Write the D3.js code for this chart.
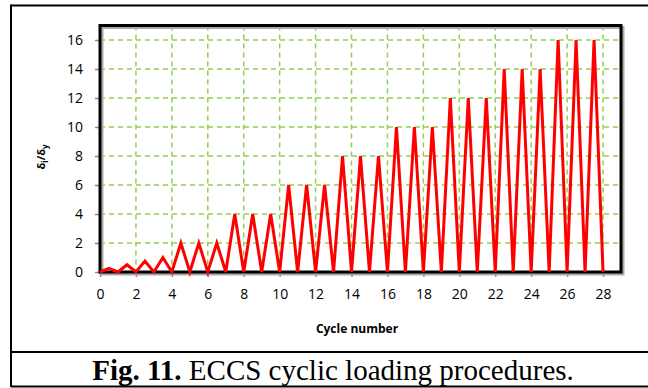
<!DOCTYPE html>
<html>
<head>
<meta charset="utf-8">
<script src="https://cdn.jsdelivr.net/npm/d3@7"></script>
<style>
  html, body { margin: 0; padding: 0; background: #fff; }
  svg { display: block; }
</style>
</head>
<body>
<script>
// ECCS cyclic loading protocol: displacement ratio per half cycle
const cycleX = [0, 0.5, 1, 1.5, 2, 2.5, 3, 3.5, 4,
  4.5, 5, 5.5, 6, 6.5, 7, 7.5, 8, 8.5, 9, 9.5, 10, 10.5, 11, 11.5, 12,
  12.5, 13, 13.5, 14, 14.5, 15, 15.5, 16, 16.5, 17, 17.5, 18, 18.5, 19,
  19.5, 20, 20.5, 21, 21.5, 22, 22.5, 23, 23.5, 24, 24.5, 25, 25.5, 26,
  26.5, 27, 27.5, 28];
const ratio = [0, 0.25, 0, 0.5, 0, 0.75, 0, 1, 0,
  2, 0, 2, 0, 2, 0, 4, 0, 4, 0, 4, 0, 6, 0, 6, 0,
  6, 0, 8, 0, 8, 0, 8, 0, 10, 0, 10, 0, 10, 0,
  12, 0, 12, 0, 12, 0, 14, 0, 14, 0, 14, 0, 16, 0,
  16, 0, 16, 0];
const xTicks = d3.range(0, 29, 2);
const yTicks = d3.range(0, 17, 2);

const W = 648, H = 388;
const svg = d3.select("body").append("svg").attr("width", W).attr("height", H);

// outer figure frame and caption box
svg.append("line").attr("x1", 11).attr("x2", W).attr("y1", 5.5).attr("y2", 5.5)
  .attr("stroke", "#000").attr("stroke-width", 2);
svg.append("line").attr("x1", 11).attr("x2", 11).attr("y1", 4.5).attr("y2", 387)
  .attr("stroke", "#000").attr("stroke-width", 2);
svg.append("line").attr("x1", 11).attr("x2", W).attr("y1", 352).attr("y2", 352)
  .attr("stroke", "#000").attr("stroke-width", 2);
svg.append("line").attr("x1", 11).attr("x2", W).attr("y1", 386.5).attr("y2", 386.5)
  .attr("stroke", "#000").attr("stroke-width", 2);

const pLeft = 100, pRight = 621, pTop = 25.5, pBottom = 272;
const x = d3.scaleLinear().domain([0, 29]).range([pLeft, pRight]);
const y = d3.scaleLinear().domain([0, 17]).range([pBottom, pTop]);

// gridlines
const grid = svg.append("g");
grid.selectAll("line.v").data(xTicks.filter(d => d > 0)).join("line")
  .attr("x1", d => x(d)).attr("x2", d => x(d)).attr("y1", pTop).attr("y2", pBottom)
  .attr("stroke", "#92D050").attr("stroke-width", 1.5).attr("stroke-dasharray", "5,4");
grid.selectAll("line.h").data(yTicks.filter(d => d > 0)).join("line")
  .attr("x1", pLeft).attr("x2", pRight).attr("y1", d => y(d)).attr("y2", d => y(d))
  .attr("stroke", "#92D050").attr("stroke-width", 1.5).attr("stroke-dasharray", "5,4");

// axes
const xAxis = svg.append("g").attr("transform", `translate(0,${pBottom})`)
  .call(d3.axisBottom(x).tickValues(xTicks).tickSize(5).tickPadding(12));
const yAxis = svg.append("g").attr("transform", `translate(${pLeft},0)`)
  .call(d3.axisLeft(y).tickValues(yTicks).tickSize(5).tickPadding(12));
[xAxis, yAxis].forEach(a => {
  a.select(".domain").remove();
  a.selectAll(".tick line").attr("stroke", "#888").attr("stroke-width", 1.5);
  a.selectAll(".tick text").attr("fill", "#000")
    .style("font-family", "'Open Sans', 'Noto Sans', sans-serif").style("font-size", "14px");
});

// plot area border with drop shadow
svg.append("rect").attr("x", pLeft + 2).attr("y", pTop + 2).attr("width", pRight - pLeft).attr("height", pBottom - pTop)
  .attr("fill", "none").attr("stroke", "#aaa").attr("stroke-width", 3);
svg.append("rect").attr("x", pLeft).attr("y", pTop).attr("width", pRight - pLeft).attr("height", pBottom - pTop)
  .attr("fill", "none").attr("stroke", "#000").attr("stroke-width", 3);

// loading history
const line = d3.line().x((d, i) => x(cycleX[i])).y(d => y(d));
svg.append("path").datum(ratio).attr("d", line)
  .attr("fill", "none").attr("stroke", "#FF0000").attr("stroke-width", 3)
  .attr("stroke-linejoin", "miter").attr("stroke-miterlimit", 4);

// axis titles
const yl = svg.append("text").attr("transform", "translate(45,157) rotate(-90)")
  .attr("text-anchor", "middle")
  .style("font-family", "'Open Sans', 'Noto Sans', sans-serif").style("font-size", "11px").style("font-weight", "bold");
yl.append("tspan").text("δ");
yl.append("tspan").attr("dy", 3).style("font-size", "8px").text("i");
yl.append("tspan").attr("dy", -3).text("/δ");
yl.append("tspan").attr("dy", 3).style("font-size", "8px").text("y");

svg.append("text").attr("x", 357).attr("y", 333).attr("text-anchor", "middle")
  .style("font-family", "'Open Sans', 'Noto Sans', sans-serif").style("font-size", "12px").style("font-weight", "bold")
  .text("Cycle number");

// figure caption
const cap = svg.append("text").attr("x", 333).attr("y", 380).attr("text-anchor", "middle")
  .style("font-family", "'Liberation Serif', 'Times New Roman', serif").style("font-size", "29px");
cap.append("tspan").style("font-weight", "bold").text("Fig. 11.");
cap.append("tspan").text(" ECCS cyclic loading procedures.");
</script>
</body>
</html>
